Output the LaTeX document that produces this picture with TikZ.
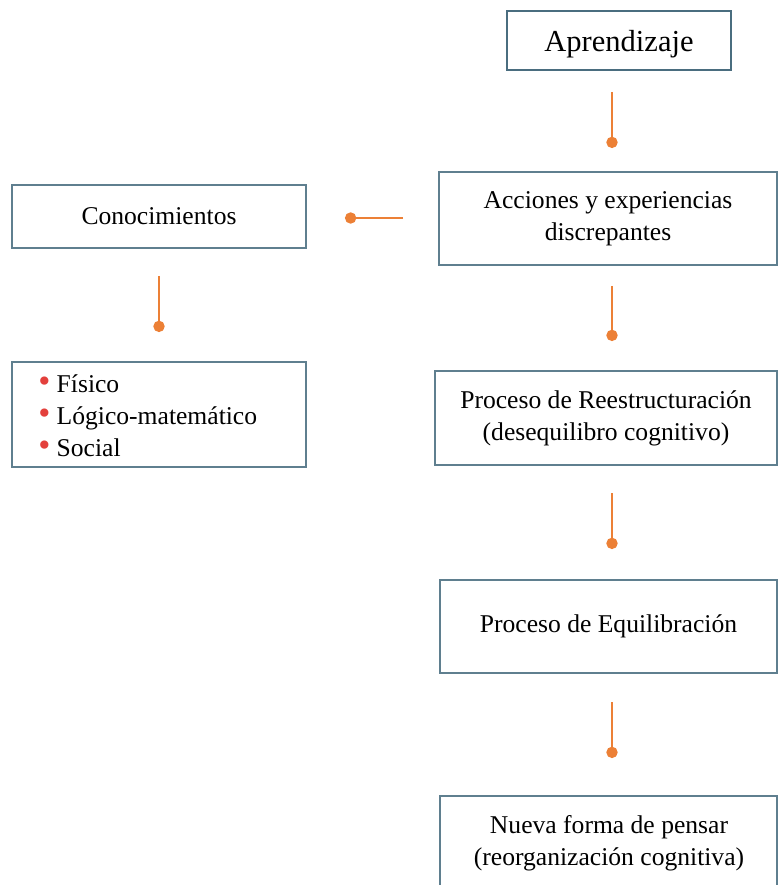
\documentclass[tikz,border=0pt]{standalone}
\usepackage{fontspec}
\setmainfont{Liberation Serif}
\usepackage{tikz}
\usetikzlibrary{arrows.meta}

\definecolor{caja}{HTML}{5F7F8F}
\definecolor{cajaosc}{HTML}{4A6D7F}
\definecolor{naranja}{HTML}{EC8036}
\definecolor{rojo}{HTML}{E3403C}
\newcommand{\pto}{\textcolor{rojo}{\scalebox{1.35}{\textbullet}}\hspace{4.5pt}}

\tikzset{
  caja/.style={draw=caja,line width=1pt,align=center,inner sep=0pt,
    font=\fontsize{18.2}{22.7}\selectfont},
  enlace/.style={draw=naranja,line width=1.9pt,-{Circle[length=8pt]}}
}

\begin{document}
\begin{tikzpicture}[x=0.025cm,y=-0.025cm]
\useasboundingbox (0,0) rectangle (778,885);
% columna derecha
\node[caja,draw=cajaosc,line width=2pt,minimum width=224*0.025cm,minimum height=59*0.025cm]
  (apr) at (619,40.5) {};
\node[font=\fontsize{21.7}{25}\selectfont] (aprt) at (619,44) {Aprendizaje};
\node[caja,minimum width=338*0.025cm,minimum height=93*0.025cm] (acc) at (608,218.5)
  {Acciones y experiencias\\discrepantes};
\node[caja,minimum width=342*0.025cm,minimum height=94*0.025cm] (ree) at (606,418)
  {Proceso de Reestructuración\\(desequilibro cognitivo)};
\node[caja,minimum width=337*0.025cm,minimum height=93*0.025cm] (equ) at (608.5,626.5)
  {Proceso de Equilibración};
\node[caja,minimum width=337*0.025cm,minimum height=94*0.025cm] (nue) at (608.5,843)
  {};
\node[font=\fontsize{18.2}{22.7}\selectfont,align=center] (nuet) at (609,843.5)
  {Nueva forma de pensar\\(reorganización cognitiva)};
% columna izquierda
\node[caja,minimum width=294*0.025cm,minimum height=63*0.025cm] (con) at (159,216.5)
  {Conocimientos};
\node[caja,minimum width=294*0.025cm,minimum height=105*0.025cm] (lis) at (159,414.5) {};
\node[font=\fontsize{18.2}{22.7}\selectfont,align=left,anchor=west,inner sep=0pt] (list)
  at (38,416) {\pto Físico\\ \pto Lógico-matemático\\ \pto Social};
% enlaces
\coordinate (e1a) at (612,92);  \coordinate (e1b) at (612,148);
\coordinate (e2a) at (612,286); \coordinate (e2b) at (612,341);
\coordinate (e3a) at (612,493); \coordinate (e3b) at (612,549);
\coordinate (e4a) at (612,702); \coordinate (e4b) at (612,758);
\coordinate (e5a) at (403,218); \coordinate (e5b) at (345,218);
\coordinate (e6a) at (159,276); \coordinate (e6b) at (159,332);
\foreach \i in {1,...,6}
  \draw[enlace] (e\i a) -- (e\i b);
\end{tikzpicture}
\end{document}
